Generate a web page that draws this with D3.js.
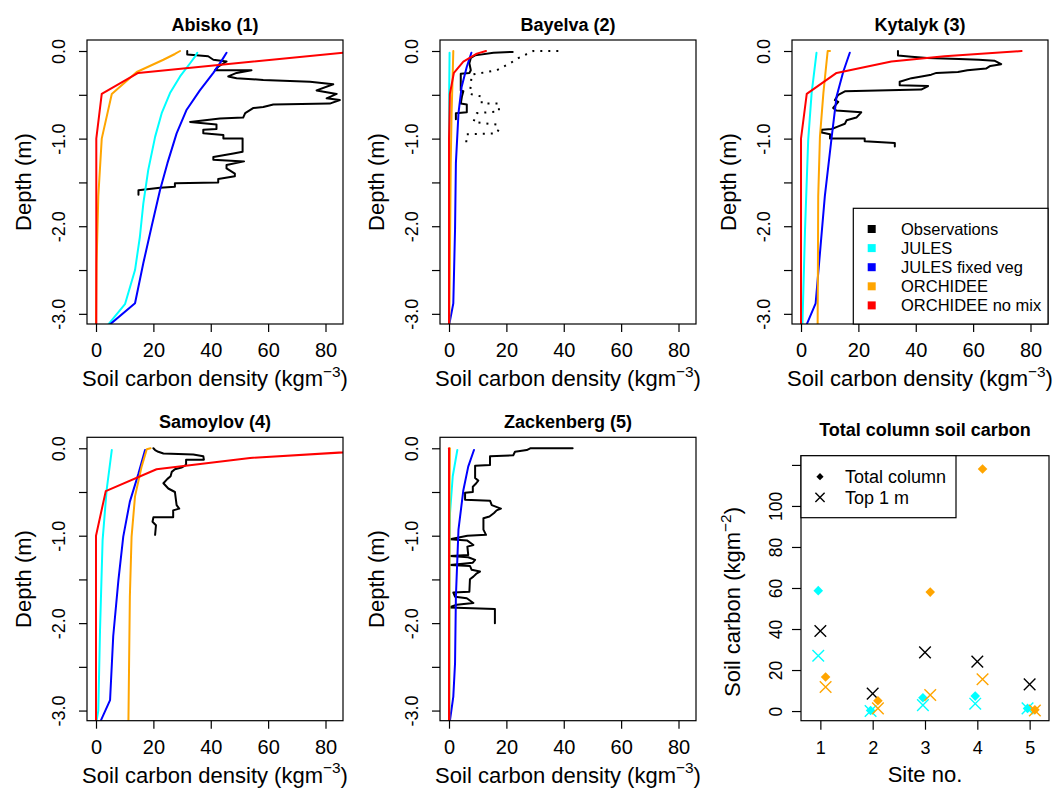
<!DOCTYPE html>
<html>
<head>
<meta charset="utf-8">
<script src="https://cdn.jsdelivr.net/npm/d3@7"></script>
<style>
  body { margin: 0; background: #fff; }
  text { font-family: "Liberation Sans", Arial, Helvetica, sans-serif; }
</style>
</head>
<body>
<svg id="chart" width="1053" height="788"></svg>
<script>
"use strict"

// Profiles are [depth (m), soil carbon density (kg m-3)]
var abiskoObs = [[0,31.8],[-0.04,31.8],[-0.06,39.1],[-0.1,40.9],[-0.12,45.5],[-0.18,42.6],[-0.22,41.5],[-0.22,54.2],[-0.25,49],
  [-0.29,46.1],[-0.31,49],[-0.33,58.3],[-0.35,74.6],[-0.38,82.7],[-0.45,76.9],[-0.49,83.9],[-0.54,80.4],[-0.56,85],
  [-0.6,81.5],[-0.61,61.8],[-0.64,58.3],[-0.65,54.9],[-0.71,52],[-0.76,51.3],[-0.77,43.2],[-0.81,32.8],[-0.84,42],
  [-0.89,42],[-0.9,37.4],[-0.94,37.4],[-0.96,44.4],[-1.0,44.4],[-1.0,51.1],[-1.15,51.1],[-1.17,47.9],[-1.21,40.9],
  [-1.24,40.9],[-1.26,51.6],[-1.3,45.5],[-1.34,45.5],[-1.4,48.4],[-1.43,48.4],[-1.46,42.6],[-1.5,42.6],[-1.51,27.5],
  [-1.55,27.5],[-1.56,22.3],[-1.59,14.8],[-1.64,14.8]]
var abiskoJules = [[-0.02,35.3],[-0.065,34.5],[-0.14,32.8],[-0.29,29.3],[-0.48,25.8],[-0.71,22.9],[-0.98,20.6],
  [-1.36,18.2],[-1.74,16.5],[-2.12,15.3],[-2.5,13.6],[-2.89,10.1],[-3.12,4.3]]
var abiskoJulesFixed = [[-0.02,45.5],[-0.11,43.8],[-0.25,40.9],[-0.45,36.2],[-0.67,31.6],[-0.94,28.1],[-1.28,24.9],
  [-1.59,22.3],[-2.0,19.4],[-2.42,16.5],[-2.88,13.6],[-3.12,4.9]]
var abiskoOrchidee = [[0,29.3],[-0.034,27.5],[-0.1,23.5],[-0.24,14.2],[-0.49,5.5],[-1.0,2.0],[-1.66,0.8],[-2.42,0.2],[-3.12,0]]
var abiskoOrchideeNoMix = [[0,92],[-0.25,14.7],[-0.49,2.0],[-1.0,0.1],[-3.12,0.1]]

var bayelvaObs = [[-0.01,22.2],[-0.02,15.5],[-0.05,9.1],[-0.08,7.6],[-0.14,7.1],[-0.22,7.6],[-0.25,7.1],[-0.26,4.1],
  [-0.45,4.1],[-0.46,5.0],[-0.52,4.5],[-0.6,4.1],[-0.61,6.2],[-0.7,6.2],[-0.71,2.4],[-0.78,2.4]]
var bayelvaObsCore2 = [[0,38.1],[0,29.4],[-0.08,24.2],[-0.14,21.3],[-0.22,16.6],[-0.27,7.9],[-0.49,7.3],[-0.52,11.4],
  [-0.6,11.4],[-0.6,17.4],[-0.69,17.4],[-0.71,9.7],[-0.81,8.5],[-0.84,16.6],[-0.89,17.4],[-0.94,16.6],[-0.95,6.2],[-1.09,5.9]]
var bayelvaJules = [[-0.02,0.2],[-0.5,0.05],[-3.12,0]]
var bayelvaJulesFixed = [[-0.02,7.8],[-0.18,6.2],[-0.41,4.4],[-0.71,3.3],[-1.28,2.4],[-2.04,2.1],[-2.88,1.5],[-3.12,0.1]]
var bayelvaOrchidee = [[0,1.5],[-0.25,1.3],[-0.71,0.9],[-1.28,0.6],[-3.12,0.1]]
var bayelvaOrchideeNoMix = [[0,12.9],[-0.03,9.7],[-0.12,5.0],[-0.25,1.7],[-0.49,0.3],[-1.0,0],[-3.12,0]]

var kytalykObs = [[0,33.8],[-0.05,33.8],[-0.065,38.5],[-0.08,44],[-0.09,55],[-0.1,62],[-0.11,67.4],[-0.15,69.8],
  [-0.17,66],[-0.2,64.5],[-0.22,58],[-0.24,54.7],[-0.25,47.2],[-0.27,45.4],[-0.29,42],[-0.31,38.5],[-0.35,34.4],
  [-0.39,34.4],[-0.4,44.3],[-0.44,41.9],[-0.46,15.3],[-0.5,13],[-0.56,11.8],[-0.58,13],[-0.65,11.2],[-0.68,12.3],
  [-0.7,21],[-0.76,19.3],[-0.79,15.9],[-0.83,15.3],[-0.86,13],[-0.89,10.7],[-0.9,7.2],[-0.93,7.2],[-0.95,10.1],
  [-1.0,10.1],[-1.0,22.2],[-1.03,22.2],[-1.05,32.7],[-1.09,32.7]]
var kytalykJules = [[-0.02,5.4],[-0.48,3.7],[-1.02,2.5],[-2.04,1.4],[-3.12,0.5]]
var kytalykJulesFixed = [[-0.02,17],[-0.24,14.7],[-0.52,12.4],[-0.98,10.7],[-1.66,8.3],[-2.88,5.1],[-3.12,2]]
var kytalykOrchidee = [[0,10.1],[0,9.3],[-0.48,7.8],[-0.98,6.6],[-1.66,6.0],[-3.12,5.8]]
var kytalykOrchideeNoMix = [[0,76.9],[-0.06,50],[-0.12,31.5],[-0.25,12.4],[-0.49,2],[-1.0,0],[-3.12,0]]

var samoylovObs = [[0,20],[-0.02,20.6],[-0.04,21.7],[-0.06,23.5],[-0.07,33.9],[-0.09,37.4],[-0.13,37.6],[-0.13,31.4],
  [-0.19,31.4],[-0.22,29.8],[-0.24,27.5],[-0.27,26.4],[-0.32,26],[-0.35,24.9],[-0.4,23.5],[-0.46,25.2],[-0.5,27.5],
  [-0.65,28.1],[-0.69,29],[-0.71,26.9],[-0.79,26.9],[-0.79,20],[-0.84,19.7],[-0.88,20.9],[-0.99,20.6]]
var samoylovJules = [[-0.02,5.5],[-0.48,3.7],[-1.05,2.3],[-2.08,1.4],[-3.0,0.8],[-3.12,0.2]]
var samoylovJulesFixed = [[-0.02,17.1],[-0.29,14.8],[-0.61,11.8],[-1.01,9.5],[-1.51,7.8],[-2.15,6],[-2.88,4.9],[-3.12,1.6]]
var samoylovOrchidee = [[0,19],[-0.01,17.7],[-0.21,15.9],[-0.55,13.6],[-1.01,12.4],[-1.7,11.8],[-3.12,11.3]]
var samoylovOrchideeNoMix = [[-0.01,105],[-0.11,53.7],[-0.24,21.1],[-0.49,3.4],[-1.0,0],[-3.12,0]]

var zackenbergObs = [[0,43.1],[0,28.3],[-0.02,27.1],[-0.04,23],[-0.08,22.4],[-0.09,14.3],[-0.19,14.3],[-0.2,9.1],
  [-0.34,9.1],[-0.37,10.2],[-0.4,9.5],[-0.44,8.3],[-0.5,8.3],[-0.51,5.6],[-0.59,5.6],[-0.6,14.3],[-0.65,14.9],
  [-0.69,18.1],[-0.71,16.6],[-0.74,15.7],[-0.78,14.1],[-0.8,12],[-0.93,12],[-0.99,12.9],[-1.0,6.4],[-1.04,0.35],
  [-1.056,6.4],[-1.106,8.5],[-1.125,6.4],[-1.22,6.7],[-1.231,0.35],[-1.247,6.7],[-1.277,9.1],[-1.308,8.3],[-1.334,0.35],
  [-1.346,7.3],[-1.39,7.9],[-1.41,10.8],[-1.43,9.7],[-1.468,8.5],[-1.498,7.3],[-1.64,7.1],[-1.65,1.5],[-1.697,2.1],
  [-1.716,6.2],[-1.77,8.5],[-1.79,2.7],[-1.82,0],[-1.838,16],[-2.0,16]]
var zackenbergJules = [[-0.02,2.9],[-0.32,1.3],[-0.74,0.35],[-1.2,0.15],[-3.12,0.1]]
var zackenbergJulesFixed = [[-0.02,8.7],[-0.21,6.7],[-0.48,5],[-0.93,3.3],[-1.7,2.4],[-2.46,2.1],[-2.84,1.5],[-3.12,0.3]]
var zackenbergOrchidee = [[0,0.3],[-0.5,0.2],[-3.12,0.1]]
var zackenbergOrchideeNoMix = [[0,0],[-3.12,0]]

var siteTitles = ["Abisko (1)", "Bayelva (2)", "Kytalyk (3)", "Samoylov (4)", "Zackenberg (5)"]
var seriesNames = ["Observations", "JULES", "JULES fixed veg", "ORCHIDEE", "ORCHIDEE no mix"]
var seriesColors = ["#000000", "#00ffff", "#0000ff", "#ffa500", "#ff0000"]

var densityTicks = [0, 20, 40, 60, 80]
var depthTicks = [0, -0.5, -1, -1.5, -2, -2.5, -3]
var depthLabels = ["0.0", "", "-1.0", "", "-2.0", "", "-3.0"]

// Total column panel (kg m-2)
var siteNo = [1, 2, 3, 4, 5]
var obsTop1m = [39, 8.5, 28.6, 24.1, 13]
var julesTotal = [58.7, 0.3, 6.5, 7.3, 1.3]
var julesTop1m = [27, 0, 2.9, 3.6, 1.3]
var orchideeTotal = [16.6, 5.0, 58, 118, 0.6]
var orchideeTop1m = [11.7, 1.3, 7.8, 15.5, 0.3]
var carbonTicks = [0, 20, 40, 60, 80, 100, 120]
var carbonLabels = ["0", "20", "40", "60", "80", "100", ""]

var profiles = [
  [abiskoObs, abiskoJules, abiskoJulesFixed, abiskoOrchidee, abiskoOrchideeNoMix],
  [bayelvaObs, bayelvaJules, bayelvaJulesFixed, bayelvaOrchidee, bayelvaOrchideeNoMix],
  [kytalykObs, kytalykJules, kytalykJulesFixed, kytalykOrchidee, kytalykOrchideeNoMix],
  [samoylovObs, samoylovJules, samoylovJulesFixed, samoylovOrchidee, samoylovOrchideeNoMix],
  [zackenbergObs, zackenbergJules, zackenbergJulesFixed, zackenbergOrchidee, zackenbergOrchideeNoMix]
]

// plot boxes: left, right, top, bottom
var boxes = [
  [87, 343, 40, 324],
  [440, 696, 40, 324],
  [792, 1048, 40, 324],
  [87, 343, 437.3, 720.7],
  [440, 696, 437.3, 720.7]
]

var svg = d3.select("#chart")

function styleAxis(ax, size) {
  ax.select(".domain").remove()
  ax.selectAll(".tick line").attr("stroke", "#000").attr("stroke-width", 1.2)
  ax.selectAll("text").attr("font-size", size).attr("fill", "#000")
    .attr("font-family", "'Liberation Sans', Arial, sans-serif")
}

function rotateLabels(ax, offset) {
  ax.selectAll("text")
    .attr("transform", "rotate(-90)")
    .attr("x", 0).attr("y", -offset).attr("dy", null)
    .attr("text-anchor", "middle")
}

function supLabel(sel, main, sup, size) {
  sel.append("tspan").text(main)
  sel.append("tspan").attr("dy", -0.42 * size).attr("font-size", size * 0.7).text(sup)
  sel.append("tspan").attr("dy", 0.42 * size).text(")")
}

function profilePanel(i) {
  var b = boxes[i]
  var x = d3.scaleLinear().domain([-3.14, 86.1]).range([b[0], b[1]])
  var y = d3.scaleLinear().domain([-3.116, 0.1256]).range([b[3], b[2]])
  var g = svg.append("g")

  g.append("clipPath").attr("id", "clip" + i).append("rect")
    .attr("x", b[0]).attr("y", b[2]).attr("width", b[1] - b[0]).attr("height", b[3] - b[2])

  var line = d3.line()
    .x(function(p) { return x(p[1]) })
    .y(function(p) { return y(p[0]) })

  var plot = g.append("g").attr("clip-path", "url(#clip" + i + ")")
  profiles[i].forEach(function(p, k) {
    plot.append("path").attr("d", line(p))
      .attr("fill", "none").attr("stroke", seriesColors[k])
      .attr("stroke-width", 2).attr("stroke-linejoin", "round").attr("stroke-linecap", "round")
    if (i === 1 && k === 0) {
      plot.append("path").attr("d", line(bayelvaObsCore2))
        .attr("fill", "none").attr("stroke", "#000")
        .attr("stroke-width", 2).attr("stroke-dasharray", "2,6")
    }
  })

  g.append("rect").attr("x", b[0]).attr("y", b[2])
    .attr("width", b[1] - b[0]).attr("height", b[3] - b[2])
    .attr("fill", "none").attr("stroke", "#000").attr("stroke-width", 1.2)

  var xa = g.append("g").attr("transform", "translate(0," + b[3] + ")")
    .call(d3.axisBottom(x).tickValues(densityTicks).tickSize(8).tickPadding(10.8))
  styleAxis(xa, 20)

  var ya = g.append("g").attr("transform", "translate(" + b[0] + ",0)")
    .call(d3.axisLeft(y).tickValues(depthTicks).tickSize(8)
      .tickFormat(function(d, j) { return depthLabels[j] }))
  styleAxis(ya, 18)
  rotateLabels(ya, 22)

  var cx = (b[0] + b[1]) / 2
  var cy = (b[2] + b[3]) / 2
  g.append("text").attr("x", cx).attr("y", b[2] - 9.3)
    .attr("text-anchor", "middle").attr("font-size", 18).attr("font-weight", "bold")
    .text(siteTitles[i])

  var xl = g.append("text").attr("x", cx).attr("y", b[3] + 62)
    .attr("text-anchor", "middle").attr("font-size", 22)
  supLabel(xl, "Soil carbon density (kgm", "\u22123", 22)

  g.append("text").attr("transform", "translate(" + (b[0] - 56) + "," + cy + ") rotate(-90)")
    .attr("text-anchor", "middle").attr("font-size", 22)
    .text("Depth (m)")

  if (i === 2) {
    var lg = g.append("g")
    lg.append("rect").attr("x", 853.3).attr("y", 208.3)
      .attr("width", b[1] - 853.3).attr("height", b[3] - 208.3)
      .attr("fill", "#fff").attr("stroke", "#000").attr("stroke-width", 1.2)
    seriesNames.forEach(function(name, k) {
      var ry = 229 + k * 19.1
      lg.append("rect").attr("x", 867.7).attr("y", ry - 4).attr("width", 8).attr("height", 8)
        .attr("fill", seriesColors[k])
      lg.append("text").attr("x", 901).attr("y", ry + 6)
        .attr("font-size", 16.5).text(name)
    })
  }
}

function diamond(r) {
  return "M0," + (-r) + "L" + r + ",0L0," + r + "L" + (-r) + ",0Z"
}
function cross(r) {
  return "M" + (-r) + "," + (-r) + "L" + r + "," + r + "M" + (-r) + "," + r + "L" + r + "," + (-r)
}

function totalPanel() {
  var b = [801, 1049, 455.7, 720.7]
  var x = d3.scaleLinear().domain([0.63, 5.37]).range([b[0], b[1]])
  var y = d3.scaleLinear().domain([-4.7, 124.5]).range([b[3], b[2]])
  var g = svg.append("g")

  function points(vals, offset, color, shape) {
    g.selectAll(null).data(vals).enter().append("path")
      .attr("transform", function(d, j) { return "translate(" + x(siteNo[j] + offset) + "," + y(d) + ")" })
      .attr("d", shape === "d" ? diamond(4.8) : cross(5.8))
      .attr("fill", shape === "d" ? color : "none")
      .attr("stroke", color).attr("stroke-width", shape === "d" ? 0 : 1.4)
  }
  points(obsTop1m, 0, "#000", "x")
  points(julesTotal, -0.04, "#00ffff", "d")
  points(julesTop1m, -0.04, "#00ffff", "x")
  points(orchideeTotal, 0.1, "#ffa500", "d")
  points(orchideeTop1m, 0.1, "#ffa500", "x")

  g.append("rect").attr("x", b[0]).attr("y", b[2])
    .attr("width", b[1] - b[0]).attr("height", b[3] - b[2])
    .attr("fill", "none").attr("stroke", "#000").attr("stroke-width", 1.2)

  var xa = g.append("g").attr("transform", "translate(0," + b[3] + ")")
    .call(d3.axisBottom(x).tickValues(siteNo).tickSize(9).tickPadding(11.5).tickFormat(d3.format("d")))
  styleAxis(xa, 18)

  var ya = g.append("g").attr("transform", "translate(" + b[0] + ",0)")
    .call(d3.axisLeft(y).tickValues(carbonTicks).tickSize(9)
      .tickFormat(function(d, j) { return carbonLabels[j] }))
  styleAxis(ya, 17.5)
  rotateLabels(ya, 19)

  g.append("text").attr("x", (b[0] + b[1]) / 2).attr("y", 436)
    .attr("text-anchor", "middle").attr("font-size", 18).attr("font-weight", "bold")
    .text("Total column soil carbon")

  g.append("text").attr("x", (b[0] + b[1]) / 2).attr("y", 782)
    .attr("text-anchor", "middle").attr("font-size", 22).text("Site no.")

  var yl = g.append("text").attr("transform", "translate(740,602) rotate(-90)")
    .attr("text-anchor", "middle").attr("font-size", 22)
  supLabel(yl, "Soil carbon (kgm", "\u22122", 22)

  // legend
  g.append("rect").attr("x", b[0]).attr("y", b[2]).attr("width", 155).attr("height", 62)
    .attr("fill", "#fff").attr("stroke", "#000").attr("stroke-width", 1.2)
  g.append("path").attr("transform", "translate(820,476.7)").attr("d", diamond(3.6)).attr("fill", "#000")
  g.append("path").attr("transform", "translate(820,497.3)").attr("d", cross(4.6))
    .attr("fill", "none").attr("stroke", "#000").attr("stroke-width", 1.4)
  g.append("text").attr("x", 845).attr("y", 483).attr("font-size", 18).text("Total column")
  g.append("text").attr("x", 845).attr("y", 503.6).attr("font-size", 18).text("Top 1 m")
}

for (var i = 0; i < 5; i++) profilePanel(i)
totalPanel()
</script>
</body>
</html>
